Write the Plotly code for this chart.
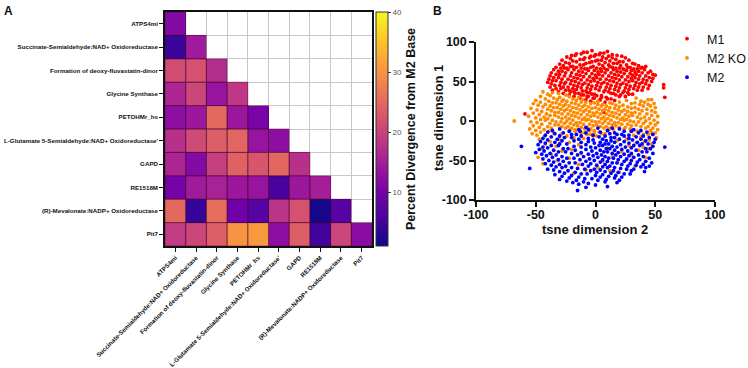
import plotly.graph_objects as go

# ---------------- Panel A data ----------------
reactions = [
    "ATPS4mi",
    "Succinate-Semialdehyde:NAD+ Oxidoreductase",
    "Formation of deoxy-fluvastatin-dinor",
    "Glycine Synthase",
    "PETOHMr_hs",
    "L-Glutamate 5-Semialdehyde:NAD+ Oxidoreductase'",
    "GAPD",
    "RE1518M",
    "(R)-Mevalonate:NADP+ Oxidoreductase",
    "Pit7",
]
row_atps4mi = [11.5]
row_succinate = [4.5, 14.5]
row_formation = [21.5, 22, 17]
row_glycine = [16, 20.5, 13.5, 18.5]
row_petohmr = [12.5, 14, 25, 14, 10.5]
row_glutamate = [17.5, 21, 23.5, 24.5, 13.5, 12.5]
row_gapd = [16, 11.5, 19.5, 24, 22.5, 24.5, 17.5]
row_re1518m = [10, 14.5, 15.5, 14, 13.5, 5.5, 14, 15]
row_mevalonate = [25, 4, 25.5, 9.5, 7, 18, 22, 1.5, 7]
row_pit7 = [19, 20.5, 23.5, 30, 30.5, 12.5, 23.5, 5, 20.5, 12]
divergence_rows = [row_atps4mi, row_succinate, row_formation, row_glycine,
                   row_petohmr, row_glutamate, row_gapd, row_re1518m,
                   row_mevalonate, row_pit7]
colorbar_ticks = [10, 20, 30, 40]

# ---------------- Panel B data: (tsne dimension 2, tsne dimension 1) ----------------
m1_points = [
    (-10, 87), (-3, 89), (4, 86), (10, 88),
    (-16, 85), (-7, 87), (0, 84), (7, 86), (14, 84),
    (-20, 83), (-12, 85), (-4, 82), (3, 84), (11, 82), (18, 83),
    (-24, 81), (-17, 83), (-9, 80), (-1, 82), (6, 81), (14, 80), (22, 82),
    (-21, 79), (-13, 78), (-5, 80), (2, 77), (9, 79), (17, 78), (25, 80),
    (-28, 77), (-19, 76), (-10, 78), (-3, 75), (5, 77), (12, 76), (20, 75), (28, 77),
    (-25, 74), (-16, 75), (-8, 73), (0, 76), (8, 74), (15, 73), (23, 75), (31, 73),
    (-30, 72), (-22, 73), (-13, 71), (-5, 74), (3, 72), (11, 71), (18, 73), (26, 71), (33, 72),
    (-27, 70), (-19, 69), (-10, 71), (-2, 69), (6, 70), (14, 68), (21, 70), (29, 68), (36, 70),
    (-33, 68), (-24, 67), (-16, 68), (-7, 66), (1, 67), (9, 65), (17, 67), (24, 65), (32, 66), (39, 68),
    (-29, 67), (-21, 69), (-12, 67), (-4, 68), (4, 66), (12, 69), (20, 67), (27, 68), (35, 66), (42, 69),
    (-35, 65), (-26, 67), (-18, 65), (-9, 66), (-1, 64), (7, 67), (15, 65), (23, 66), (30, 64), (38, 67),
    (-31, 63), (-23, 65), (-14, 63), (-6, 64), (2, 62), (10, 65), (18, 63), (26, 64), (33, 62), (41, 65), (46, 63),
    (-37, 61), (-28, 63), (-20, 61), (-11, 62), (-3, 60), (5, 63), (13, 61), (21, 62), (29, 60), (36, 63), (44, 61),
    (-33, 59), (-25, 61), (-16, 59), (-8, 60), (0, 58), (8, 61), (16, 59), (24, 60), (31, 58), (39, 61), (48, 59),
    (-38, 57), (-30, 59), (-21, 57), (-13, 58), (-5, 56), (3, 59), (11, 57), (19, 58), (27, 56), (34, 59), (42, 57), (50, 58),
    (-35, 55), (-26, 57), (-18, 55), (-10, 56), (-2, 54), (6, 57), (14, 55), (22, 56), (30, 54), (37, 57), (45, 55),
    (-39, 53), (-31, 55), (-23, 53), (-15, 54), (-7, 52), (1, 55), (9, 53), (17, 54), (25, 52), (33, 55), (40, 53), (48, 54),
    (-36, 51), (-28, 53), (-20, 51), (-12, 52), (-4, 50), (4, 53), (12, 51), (20, 52), (28, 50), (36, 53), (43, 51),
    (-40, 49), (-33, 51), (-25, 49), (-17, 50), (-9, 48), (-1, 51), (7, 49), (15, 50), (23, 48), (31, 51), (39, 49), (47, 50),
    (-37, 47), (-29, 49), (-21, 47), (-14, 48), (-6, 46), (2, 49), (10, 47), (18, 48), (26, 46), (34, 49), (42, 47),
    (-34, 45), (-26, 47), (-18, 45), (-11, 46), (-3, 44), (5, 47), (13, 45), (21, 46), (29, 44), (37, 47), (45, 45), (57, 46),
    (-38, 43), (-30, 45), (-23, 43), (-15, 44), (-7, 42), (1, 45), (9, 43), (17, 44), (25, 42), (33, 45), (40, 43),
    (-33, 41), (-27, 43), (-19, 41), (-12, 42), (-4, 40), (4, 43), (12, 41), (20, 42), (28, 40), (36, 43), (44, 41), (57, 42),
    (-36, 39), (-29, 41), (-22, 39), (-16, 40), (-8, 38), (0, 41), (8, 39), (16, 40), (24, 38), (32, 41), (39, 39),
    (-31, 37), (-25, 39), (-18, 37), (-11, 38), (-5, 36), (3, 39), (11, 37), (19, 38), (27, 36), (35, 39),
    (-27, 35), (-21, 37), (-14, 35), (-7, 36), (-1, 34), (7, 37), (15, 35), (23, 36), (31, 34),
    (-22, 33), (-17, 35), (-10, 33), (-3, 34), (5, 32), (13, 35), (21, 33), (28, 34),
    (-18, 31), (-12, 33), (-6, 31), (1, 32), (9, 30), (17, 33), (25, 31),
    (-13, 29), (-7, 31), (-1, 29), (5, 30), (13, 28), (20, 31), (58, 30),
    (-8, 27), (-2, 29), (4, 27), (10, 28), (16, 26),
    (-4, 25), (3, 26), (8, 24),
    (7, 11), (-59, 9),
]
m2ko_points = [
    (-44, 37), (-36, 36),
    (-40, 34), (-31, 35), (-25, 33),
    (-46, 31), (-38, 32), (-30, 30), (-22, 31), (-14, 30),
    (-42, 28), (-35, 29), (-27, 27), (-19, 28), (-11, 27), (34, 29), (44, 27),
    (-50, 26), (-39, 25), (-32, 27), (-24, 25), (-16, 26), (-8, 24), (26, 26), (38, 25), (47, 27),
    (-46, 24), (-36, 23), (-28, 25), (-20, 23), (-12, 24), (-4, 22), (2, 25), (12, 23), (20, 24), (30, 22), (41, 24),
    (-52, 22), (-42, 21), (-33, 23), (-25, 21), (-17, 22), (-9, 20), (-1, 23), (6, 21), (14, 22), (23, 20), (33, 23), (44, 21), (49, 22),
    (-48, 20), (-38, 19), (-30, 21), (-22, 19), (-14, 20), (-6, 18), (2, 21), (9, 19), (17, 20), (27, 18), (37, 21), (46, 19),
    (-44, 18), (-35, 17), (-27, 19), (-19, 17), (-11, 18), (-3, 16), (5, 19), (12, 17), (20, 18), (30, 16), (40, 19), (50, 17),
    (-54, 16), (-40, 15), (-32, 17), (-24, 15), (-16, 16), (-8, 14), (0, 17), (8, 15), (16, 16), (24, 14), (33, 17), (43, 15),
    (-49, 14), (-37, 13), (-29, 15), (-21, 13), (-13, 14), (-5, 12), (3, 15), (11, 13), (19, 14), (27, 12), (36, 15), (47, 13),
    (-45, 12), (-34, 11), (-26, 13), (-18, 11), (-10, 12), (-2, 10), (6, 13), (14, 11), (22, 12), (30, 10), (39, 13), (50, 11),
    (-52, 10), (-41, 9), (-31, 11), (-23, 9), (-15, 10), (-7, 8), (1, 11), (9, 9), (17, 10), (25, 8), (33, 11), (43, 9),
    (-47, 8), (-38, 7), (-28, 9), (-20, 7), (-12, 8), (-4, 6), (4, 9), (12, 7), (20, 8), (28, 6), (37, 9), (47, 7),
    (-56, 6), (-43, 5), (-34, 7), (-25, 5), (-17, 6), (-9, 4), (-1, 7), (7, 5), (15, 6), (23, 4), (31, 7), (41, 5), (52, 6),
    (-50, 4), (-40, 3), (-31, 5), (-22, 3), (-14, 4), (-6, 2), (2, 5), (10, 3), (18, 4), (26, 2), (35, 5), (45, 3),
    (-46, 2), (-36, 1), (-28, 3), (-19, 1), (-11, 2), (-3, 0), (5, 3), (13, 1), (21, 2), (29, 0), (38, 3), (49, 1),
    (-68, 0), (-54, -1), (-42, 1), (-33, -1), (-24, 0), (-16, -2), (-8, 1), (0, -1), (8, 0), (16, -2), (24, 1), (32, -1), (42, 0), (52, -2),
    (-49, -2), (-38, -3), (-29, -1), (-21, -3), (-13, -2), (-5, -4), (3, -1), (11, -3), (19, -2), (27, -4), (36, -1), (46, -3),
    (-45, -4), (-34, -5), (-26, -3), (-18, -5), (-10, -4), (-2, -6), (6, -3), (14, -5), (22, -4), (30, -6), (40, -3), (50, -5),
    (-52, -6), (-40, -7), (-31, -5), (-23, -7), (-15, -6), (-7, -8), (1, -5), (9, -7), (17, -6), (25, -8), (34, -5), (44, -7),
    (-47, -8), (-37, -9), (-28, -7), (-20, -9), (-12, -8), (-4, -10), (4, -7), (12, -9), (20, -8), (29, -10), (38, -7), (48, -9),
    (-55, -10), (-43, -11), (-25, -9), (-17, -11), (-9, -10), (-1, -12), (7, -9), (15, -11), (24, -10), (42, -9), (52, -11),
    (-50, -12), (-39, -13), (-21, -11), (-13, -13), (-5, -12), (3, -14), (11, -11), (30, -13), (46, -12),
    (-46, -14), (-35, -15), (-17, -13), (-9, -15), (-1, -14), (8, -16), (35, -13), (50, -15),
    (-53, -16), (-29, -17), (-12, -15), (-4, -17), (5, -16), (40, -17), (47, -15),
    (-49, -18), (-24, -19), (-7, -17), (1, -19), (32, -18), (44, -17),
    (-43, -20), (-18, -21), (-2, -19), (38, -20), (51, -21),
    (-47, -23), (-30, -24), (-10, -22), (26, -23), (45, -24),
    (-38, -26), (-22, -27), (18, -25), (41, -26),
    (-42, -29), (-14, -30), (34, -28), (47, -29),
    (-33, -32), (28, -31), (40, -33),
    (-45, -35), (-20, -36), (10, -34), (44, -35),
    (-28, -38), (22, -39), (36, -37),
    (-37, -42), (-12, -41), (30, -43),
    (-48, -46), (-22, -47), (14, -45), (42, -46),
    (-32, -50), (6, -51), (26, -49),
    (-44, -54), (-14, -55), (18, -53),
    (-25, -58), (2, -59), (33, -57),
    (-8, -62), (12, -63),
    (-18, -66), (20, -65),
]
m2_points = [
    (-8, -8), (14, -9),
    (-30, -10), (-14, -11), (2, -9), (20, -10), (32, -11),
    (-36, -12), (-22, -13), (-6, -11), (10, -12), (24, -13), (38, -12),
    (-40, -14), (-27, -15), (-13, -13), (4, -14), (16, -15), (30, -13), (43, -14),
    (-34, -16), (-20, -17), (-8, -15), (12, -16), (22, -17), (36, -15),
    (-42, -18), (-30, -19), (-16, -17), (-2, -18), (8, -19), (18, -17), (28, -18), (40, -19), (48, -17),
    (-37, -20), (-26, -21), (-12, -19), (3, -20), (13, -21), (24, -19), (34, -20), (45, -21),
    (-44, -22), (-32, -23), (-20, -21), (-6, -22), (6, -23), (16, -21), (28, -22), (38, -23),
    (-40, -24), (-28, -25), (-14, -23), (-2, -24), (9, -25), (20, -23), (31, -24), (42, -25), (50, -23),
    (-46, -26), (-34, -27), (-18, -25), (-6, -26), (4, -27), (13, -25), (24, -26), (35, -27),
    (-42, -28), (-30, -29), (-12, -27), (-1, -28), (8, -29), (16, -27), (28, -28), (39, -29), (49, -27),
    (-48, -30), (-37, -31), (-24, -29), (-8, -30), (3, -31), (11, -29), (21, -30), (32, -31), (44, -29),
    (-62, -32), (-44, -33), (-31, -31), (-18, -32), (-4, -33), (6, -31), (14, -32), (25, -33), (37, -31), (48, -32), (58, -33),
    (-40, -34), (-27, -35), (-12, -33), (0, -34), (9, -35), (18, -33), (30, -34), (42, -35),
    (-47, -36), (-35, -37), (-23, -35), (-8, -36), (4, -37), (12, -35), (22, -36), (34, -37), (46, -35),
    (-43, -38), (-31, -39), (-17, -37), (-3, -38), (7, -39), (16, -37), (27, -38), (39, -39),
    (-50, -40), (-38, -41), (-25, -39), (-12, -40), (1, -41), (10, -39), (19, -40), (30, -41), (43, -39),
    (-45, -42), (-33, -43), (-20, -41), (-6, -42), (5, -43), (14, -41), (24, -42), (36, -43), (48, -41),
    (-41, -44), (-28, -45), (-15, -43), (-2, -44), (8, -45), (17, -43), (28, -44), (40, -45),
    (-36, -46), (-24, -47), (-10, -45), (2, -46), (11, -47), (21, -45), (32, -46), (45, -47),
    (-44, -48), (-31, -49), (-18, -47), (-5, -48), (6, -49), (15, -47), (26, -48), (37, -49),
    (-39, -50), (-27, -51), (-13, -49), (-1, -50), (10, -51), (19, -49), (30, -50), (42, -51),
    (-35, -52), (-22, -53), (-8, -51), (4, -52), (14, -53), (24, -51), (35, -52), (47, -53),
    (-42, -54), (-30, -55), (-17, -53), (-4, -54), (8, -55), (18, -53), (29, -54), (40, -55),
    (-37, -56), (-25, -57), (-11, -55), (1, -56), (12, -57), (22, -55), (34, -56), (45, -57),
    (-33, -58), (-20, -59), (-6, -57), (6, -58), (16, -59), (27, -57), (38, -58),
    (-55, -60), (-40, -61), (-28, -59), (-15, -60), (-1, -61), (10, -59), (21, -60), (32, -61), (42, -59),
    (-35, -62), (-23, -63), (-9, -61), (4, -62), (15, -63), (26, -61),
    (-30, -64), (-17, -65), (-4, -63), (8, -64), (19, -65), (30, -63), (41, -64),
    (-26, -66), (-12, -67), (1, -65), (13, -66), (24, -67),
    (-34, -68), (-20, -69), (-7, -67), (6, -68), (17, -69), (29, -67),
    (-28, -70), (-14, -71), (0, -69), (11, -70), (22, -71),
    (-22, -72), (-9, -73), (4, -71), (16, -72),
    (-30, -74), (-16, -75), (-3, -73), (9, -74), (20, -75),
    (-24, -76), (-10, -77), (2, -75),
    (-19, -78), (-6, -79), (8, -77), (18, -78),
    (-14, -80), (0, -81),
    (-8, -84), (10, -83),
    (-15, -88),
]
series_names = ["M1", "M2 KO", "M2"]
series_colors = ["#ff0000", "#ff8a00", "#0000ff"]
axis_ticks = [-100, -50, 0, 50, 100]

# ---------------- layout helpers (page pixels -> paper fractions) ----------------
W, H = 748, 368


def PX(x):
    return x / W


def PY(y):
    return 1 - y / H


FONT = "Liberation Sans, Arial, Helvetica, sans-serif"
TICK_SIZE = 6.2
n = len(reactions)
idx = list(range(n))

z = []
for i in range(n):
    z.append(list(divergence_rows[i]) + [None] * (n - len(divergence_rows[i])))

fig = go.Figure()

fig.add_trace(go.Heatmap(
    z=z, x=idx, y=idx,
    colorscale="Plasma", zmin=1, zmax=40,
    xaxis="x", yaxis="y", showscale=True, hoverongaps=False,
    colorbar=dict(
        x=PX(376), xanchor="left", xpad=0,
        y=PY(12), yanchor="top", ypad=0,
        len=234, lenmode="pixels", thickness=12,
        outlinewidth=1, outlinecolor="#333",
        tickvals=colorbar_ticks, ticks="outside", ticklen=3, tickcolor="#333",
        tickfont=dict(family=FONT, size=8, color="#555"),
        title=dict(text="<b>Percent Divergence from M2 Base</b>", side="right",
                   font=dict(family=FONT, size=12.5, color="#111")),
    ),
))

for name, color, pts in zip(series_names, series_colors, [m1_points, m2ko_points, m2_points]):
    fig.add_trace(go.Scatter(
        x=[p[0] for p in pts], y=[p[1] for p in pts], mode="markers", name=name,
        marker=dict(color=color, size=3.8, line=dict(width=0)),
        xaxis="x2", yaxis="y2",
    ))

shapes = []
for i in range(n):
    for j in range(len(divergence_rows[i])):
        shapes.append(dict(type="rect", xref="x", yref="y",
                           x0=j - 0.5, x1=j + 0.5, y0=i - 0.5, y1=i + 0.5,
                           line=dict(color="rgba(70,0,50,0.45)", width=1),
                           fillcolor="rgba(0,0,0,0)", layer="above"))

bounds = [k - 0.5 for k in range(n + 1)]

fig.update_layout(
    width=W, height=H,
    margin=dict(l=0, r=0, t=0, b=0, autoexpand=False),
    paper_bgcolor="white", plot_bgcolor="white",
    font=dict(family=FONT, color="#111"),
    shapes=shapes,
    xaxis=dict(
        domain=[PX(165), PX(372)], range=[-0.5, n - 0.5], automargin=False,
        tickvals=idx, ticktext=["<b>%s</b>" % r for r in reactions],
        tickangle=-45, tickfont=dict(family=FONT, size=TICK_SIZE, color="#111"),
        ticks="outside", ticklen=4, tickwidth=1, tickcolor="#111",
        showgrid=False, zeroline=False,
        showline=True, mirror=True, linecolor="#111", linewidth=1.5,
        minor=dict(tickvals=bounds, showgrid=True, gridcolor="#c8c8c8", gridwidth=1, ticks=""),
        anchor="y",
    ),
    yaxis=dict(
        domain=[PY(246), PY(12)], range=[n - 0.5, -0.5], automargin=False,
        tickvals=idx, ticktext=["<b>%s</b>" % r for r in reactions],
        tickfont=dict(family=FONT, size=TICK_SIZE, color="#111"),
        ticks="outside", ticklen=4, tickwidth=1, tickcolor="#111",
        showgrid=False, zeroline=False,
        showline=True, mirror=True, linecolor="#111", linewidth=1.5,
        minor=dict(tickvals=bounds, showgrid=True, gridcolor="#c8c8c8", gridwidth=1, ticks=""),
        anchor="x",
    ),
    xaxis2=dict(
        domain=[PX(476), PX(715)], range=[-100, 100], automargin=False,
        tickvals=axis_ticks, ticktext=["<b>%d</b>" % t for t in axis_ticks],
        tickfont=dict(family=FONT, size=12.5, color="#111"),
        ticks="outside", ticklen=5, tickwidth=1.5, tickcolor="#111", ticklabelstandoff=-3,
        showgrid=False, zeroline=False,
        showline=True, linecolor="#111", linewidth=1.5,
        anchor="y2",
    ),
    yaxis2=dict(
        domain=[PY(200), PY(42)], range=[-100, 100], automargin=False,
        tickvals=axis_ticks, ticktext=["<b>%d</b>" % t for t in axis_ticks],
        tickfont=dict(family=FONT, size=12.5, color="#111"),
        ticks="outside", ticklen=5, tickwidth=1.5, tickcolor="#111",
        showgrid=False, zeroline=False,
        showline=True, linecolor="#111", linewidth=1.5,
        anchor="x2",
    ),
    legend=dict(
        x=PX(667), y=PY(24), xanchor="left", yanchor="top",
        font=dict(family=FONT, size=12.5, color="#111"),
        bgcolor="rgba(0,0,0,0)", itemwidth=30, tracegroupgap=0,
    ),
    annotations=[
        dict(text="<b>A</b>", x=PX(2), y=PY(2), xref="paper", yref="paper",
             xanchor="left", yanchor="top", showarrow=False,
             font=dict(family=FONT, size=12, color="#111")),
        dict(text="<b>B</b>", x=PX(431), y=PY(2), xref="paper", yref="paper",
             xanchor="left", yanchor="top", showarrow=False,
             font=dict(family=FONT, size=12, color="#111")),
        dict(text="<b>tsne dimension 2</b>", x=PX(595), y=PY(229), xref="paper", yref="paper",
             xanchor="center", yanchor="middle", showarrow=False,
             font=dict(family=FONT, size=13, color="#111")),
        dict(text="<b>tsne dimension 1</b>", x=PX(438), y=PY(118), xref="paper", yref="paper",
             xanchor="center", yanchor="middle", showarrow=False, textangle=-90,
             font=dict(family=FONT, size=13, color="#111")),
    ],
)

# remove the browser's default 8 px page margin so the figure fills the window
fig.write_html("out.html", config={"displayModeBar": False},
               post_script="document.body.style.margin='0';")
